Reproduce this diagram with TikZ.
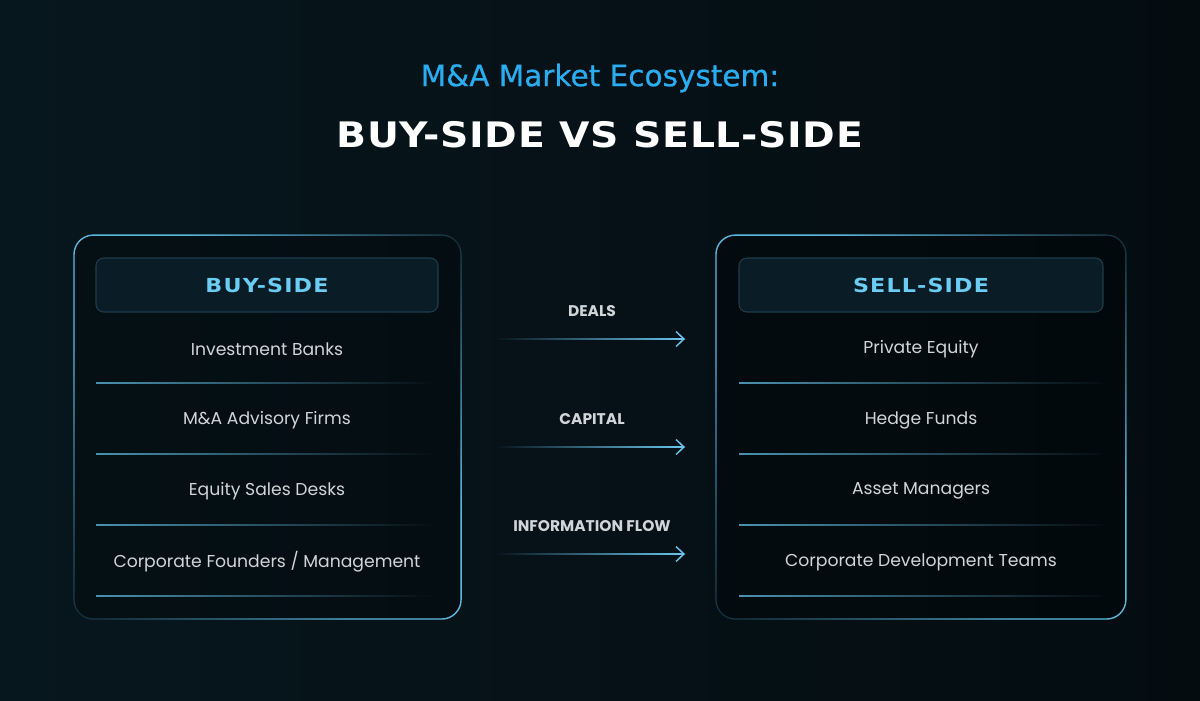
\documentclass[tikz,border=0pt]{standalone}
\usepackage{fontspec}
\setmainfont{Poppins}
\newfontfamily\eyebrowfont{DejaVu Sans}[FakeBold=0.6]
\newfontfamily\titlefont{DejaVu Sans}[FakeStretch=1.12,LetterSpace=2]
\newfontfamily\widefont{DejaVu Sans}[FakeStretch=1.15,LetterSpace=6]
\usetikzlibrary{arrows.meta,fadings}

\definecolor{bgleft}{HTML}{07171E}
\definecolor{bgright}{HTML}{040C10}
\definecolor{titleblue}{HTML}{2AADF0}
\definecolor{headblue}{HTML}{6BCDF4}
\definecolor{itemgray}{HTML}{D0D5D8}
\definecolor{edgeblue}{HTML}{5DB6DA}
\definecolor{edgedim}{HTML}{102531}
\definecolor{pillfill}{HTML}{0A1C25}
\definecolor{pilledge}{HTML}{1D3D4D}
\definecolor{arrowblue}{HTML}{6CC8F0}

\tikzfading[name=fadeleft, left color=transparent!100, right color=transparent!0]
\tikzfading[name=glowdiag, top color=transparent!0, bottom color=transparent!0,
  middle color=transparent!92, shading angle=45]

\begin{document}
\begin{tikzpicture}[x=0.02cm,y=-0.02cm,
    eyebrow/.style={text=titleblue,font=\eyebrowfont\fontsize{16.8}{18}\selectfont},
    bigtitle/.style={text=white,font=\titlefont\bfseries\fontsize{20}{24}\selectfont},
    headtext/.style={text=headblue,font=\widefont\bfseries\fontsize{11}{13}\selectfont},
    item/.style={text=itemgray,font=\fontsize{9.8}{12}\selectfont},
    flowlabel/.style={text=itemgray,font=\bfseries\fontsize{8.8}{10}\selectfont},
    panelbase/.style={draw=edgedim,line width=0.6pt,rounded corners=11pt,fill=black,fill opacity=0.25},
    panelglow/.style={draw=edgeblue,line width=0.8pt,rounded corners=11pt,path fading=glowdiag},
    pill/.style={draw=pilledge,fill=pillfill,line width=0.6pt,rounded corners=4.5pt},
    sep/.style={left color=edgeblue!80!black,right color=bgright},
    flow/.style={draw=arrowblue,line width=0.85pt,-{Straight Barb[length=4.5pt,width=8.5pt]},path fading=fadeleft}]

\shade[left color=bgleft,right color=bgright] (0,0) rectangle (1200,700);
\useasboundingbox (0,0) rectangle (1200,700);

\node[eyebrow] (eyebrow) at (600,78) {M\&A Market Ecosystem:};
\node[bigtitle] (maintitle) at (600,135) {BUY-SIDE VS SELL-SIDE};

% buy-side panel
\path[panelbase] (74,235) rectangle (461,619);
\path[panelglow] (74,235) rectangle (461,619);
\path[pill] (96,258) rectangle (438,312);
\node[headtext] (buyhead) at (267,285) {BUY-SIDE};
\foreach \t [count=\i] in {Investment Banks,M\&A Advisory Firms,Equity Sales Desks,Corporate Founders / Management}{
  \node[item] (buy\i) at (267,{278+71*\i}) {\t};
  \shade[sep] (96,{311.5+71*\i}) rectangle (438,{312.5+71*\i});
}

% sell-side panel
\path[panelbase] (716,235) rectangle (1126,619);
\path[panelglow] (716,235) rectangle (1126,619);
\path[pill] (739,258) rectangle (1103,312);
\node[headtext] (sellhead) at (921,285) {SELL-SIDE};
\foreach \t [count=\i] in {Private Equity,Hedge Funds,Asset Managers,Corporate Development Teams}{
  \node[item] (sell\i) at (921,{278+71*\i}) {\t};
  \shade[sep] (739,{311.5+71*\i}) rectangle (1103,{312.5+71*\i});
}

% flows
\node[flowlabel] (deals) at (592,311) {DEALS};
\node[flowlabel] (capital) at (592,419) {CAPITAL};
\node[flowlabel] (info) at (592,526) {INFORMATION FLOW};
\coordinate (deals-a) at (495,339);  \coordinate (deals-b) at (685,339);
\coordinate (capital-a) at (495,447); \coordinate (capital-b) at (685,447);
\coordinate (info-a) at (495,554);   \coordinate (info-b) at (685,554);
\foreach \f in {deals,capital,info}
  \draw[flow] ([yshift=-4pt]\f-a) ([yshift=4pt]\f-a) (\f-a) -- (\f-b);
\end{tikzpicture}
\end{document}
